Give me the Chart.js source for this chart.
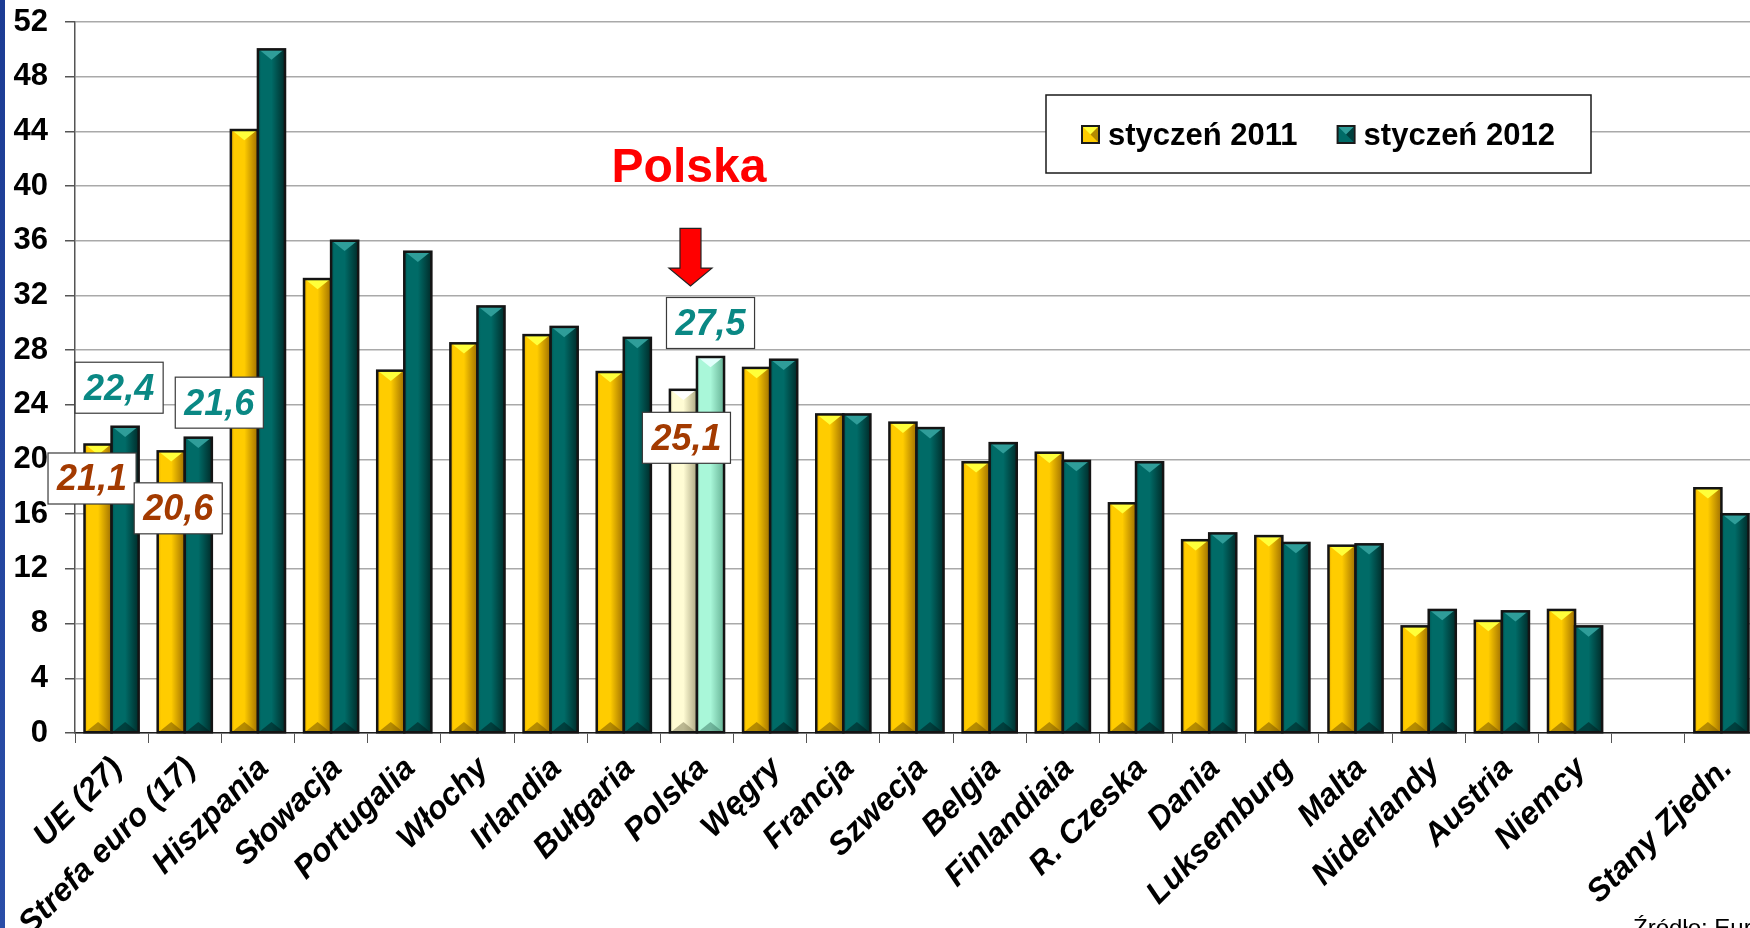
<!DOCTYPE html>
<html>
<head>
<meta charset="utf-8">
<script src="https://cdn.jsdelivr.net/npm/chart.js@4.4.0/dist/chart.umd.min.js"></script>
<style>
html,body{margin:0;padding:0;overflow:hidden;background:#fff;width:1750px;height:928px}
canvas{display:block}
</style>
</head>
<body>
<canvas id="c" width="1760" height="928" style="width:1760px;height:928px"></canvas>
<script>
// ---------- DATA ----------
const categories = ['UE (27)','Strefa euro (17)','Hiszpania','Słowacja','Portugalia','Włochy','Irlandia','Bułgaria','Polska','Węgry','Francja','Szwecja','Belgia','Finlandiaia','R. Czeska','Dania','Luksemburg','Malta','Niderlandy','Austria','Niemcy','','Stany Zjedn.'];
const jan2011 = [21.1,20.6,44.1,33.2,26.5,28.5,29.1,26.4,25.1,26.7,23.3,22.7,19.8,20.5,16.8,14.1,14.4,13.7,7.8,8.2,9.0,null,17.9];
const jan2012 = [22.4,21.6,50.0,36.0,35.2,31.2,29.7,28.9,27.5,27.3,23.3,22.3,21.2,19.9,19.8,14.6,13.9,13.8,9.0,8.9,7.8,null,16.0];
const seriesNames = ['styczeń 2011','styczeń 2012'];
const yTickValues = [0,4,8,12,16,20,24,28,32,36,40,44,48,52];
const highlightCategory = 'Polska';
const highlightTitle = 'Polska';
const sourceText = 'Źródło: Eurostat';
// which values carry a boxed label: [datasetIndex, categoryIndex]
const calloutPoints = [[1,0],[0,0],[1,1],[0,1],[1,8],[0,8]];

// ---------- STYLE ----------
const FONT = "'Liberation Sans', Arial, Helvetica, sans-serif";
const calloutOffsets = [[-6,-39],[-6,34],[21,-35],[7,57],[0,-34],[3,48]];
const pal = {
  y:  {base:'#ffcc00', edge:'#e0a800', dark:'#a07000', light:'#ffff3a', shadow:'rgba(120,85,0,0.55)', text:'#a33a00'},
  t:  {base:'#006b67', edge:'#005552', dark:'#002c2a', light:'#2f9d99', shadow:'rgba(0,30,30,0.55)', text:'#0a8884'},
  yP: {base:'#fffcd4', edge:'#e8e4b8', dark:'#aca882', light:'#ffffff', shadow:'rgba(120,115,80,0.5)'},
  tP: {base:'#a9f7d9', edge:'#90e4c4', dark:'#66b295', light:'#e2fffb', shadow:'rgba(60,120,100,0.5)'}
};
const hiIdx = categories.indexOf(highlightCategory);
function palFor(di, i){
  if (i === hiIdx) return di === 0 ? pal.yP : pal.tP;
  return di === 0 ? pal.y : pal.t;
}
const fmt = v => v.toFixed(1).replace('.', ',');

// ---------- PLUGINS ----------
const bgPlugin = {
  id:'bg',
  beforeDraw(chart){
    const ctx = chart.ctx;
    ctx.save();
    ctx.fillStyle = '#ffffff';
    ctx.fillRect(0,0,chart.width,chart.height);
    const g = ctx.createLinearGradient(0,0,0,chart.height);
    g.addColorStop(0,'#1c3c94'); g.addColorStop(1,'#2a4ea8');
    ctx.fillStyle = g;
    ctx.fillRect(0,0,5,chart.height);
    ctx.restore();
  }
};

const barStylePlugin = {
  id:'barStyle',
  afterDatasetsDraw(chart){
    const ctx = chart.ctx;
    chart.data.datasets.forEach((ds, di) => {
      const meta = chart.getDatasetMeta(di);
      meta.data.forEach((bar, i) => {
        if (ds.data[i] == null) return;
        const p = bar.getProps(['x','y','base','width'], true);
        const l = p.x - p.width/2, r = p.x + p.width/2, top = p.y, bot = p.base;
        const c = palFor(di, i);
        ctx.save();
        const g = ctx.createLinearGradient(l,0,r,0);
        g.addColorStop(0, c.edge);
        g.addColorStop(0.12, c.base);
        g.addColorStop(0.5, c.base);
        g.addColorStop(1, c.dark);
        ctx.fillStyle = g;
        ctx.fillRect(l, top, p.width, bot-top);
        const bh = Math.min(p.width*0.38, (bot-top)/2);
        ctx.fillStyle = c.light;
        ctx.beginPath(); ctx.moveTo(l+2,top+1); ctx.lineTo(r-2,top+1); ctx.lineTo(p.x, top+bh); ctx.closePath(); ctx.fill();
        ctx.fillStyle = c.shadow;
        ctx.beginPath(); ctx.moveTo(l+2,bot-1); ctx.lineTo(r-2,bot-1); ctx.lineTo(p.x, bot-bh); ctx.closePath(); ctx.fill();
        ctx.lineWidth = 2.5;
        ctx.strokeStyle = '#141414';
        ctx.strokeRect(l, top, p.width, bot-top);
        ctx.restore();
      });
    });
  }
};

const annotPlugin = {
  id:'annot',
  afterDraw(chart){
    const ctx = chart.ctx;
    const xs = chart.scales.x, ys = chart.scales.y;
    ctx.save();
    // callout labels
    ctx.font = "italic bold 36px " + FONT;
    ctx.textAlign = 'center';
    ctx.textBaseline = 'middle';
    calloutPoints.forEach(([di, i], k) => {
      const bar = chart.getDatasetMeta(di).data[i];
      const p = bar.getProps(['x','y'], true);
      const cx = p.x + calloutOffsets[k][0], cy = p.y + calloutOffsets[k][1];
      const txt = fmt(chart.data.datasets[di].data[i]);
      const w = ctx.measureText(txt).width + 18, h = 51;
      ctx.fillStyle = '#ffffff';
      ctx.fillRect(cx-w/2, cy-h/2, w, h);
      ctx.lineWidth = 1.2; ctx.strokeStyle = '#3a3a3a';
      ctx.strokeRect(cx-w/2, cy-h/2, w, h);
      ctx.fillStyle = di === 0 ? pal.y.text : pal.t.text;
      ctx.fillText(txt, cx, cy+2);
    });
    // highlight title + arrow
    const hx = xs.getPixelForValue(hiIdx);
    ctx.font = "bold 48px " + FONT;
    ctx.fillStyle = '#ff0000';
    ctx.textAlign = 'center';
    ctx.textBaseline = 'alphabetic';
    ctx.fillText(highlightTitle, hx - 8, ys.getPixelForValue(40.3));
    const ax = hx - 6.5;
    const yTop = ys.getPixelForValue(36.9), yNeck = ys.getPixelForValue(34.0), yTip = ys.getPixelForValue(32.7);
    ctx.beginPath();
    ctx.moveTo(ax-10.5, yTop); ctx.lineTo(ax+10.5, yTop); ctx.lineTo(ax+10.5, yNeck);
    ctx.lineTo(ax+21.5, yNeck); ctx.lineTo(ax, yTip); ctx.lineTo(ax-21.5, yNeck);
    ctx.lineTo(ax-10.5, yNeck); ctx.closePath();
    ctx.fillStyle = '#ff0000'; ctx.fill();
    ctx.lineWidth = 1.2; ctx.strokeStyle = '#222'; ctx.stroke();
    // legend
    const lx = 1046, ly = 95, lw = 545, lh = 78;
    ctx.fillStyle = '#ffffff';
    ctx.fillRect(lx, ly, lw, lh);
    ctx.lineWidth = 1.5; ctx.strokeStyle = '#1a1a1a';
    ctx.strokeRect(lx, ly, lw, lh);
    ctx.font = "bold 31px " + FONT;
    ctx.textAlign = 'left';
    ctx.textBaseline = 'alphabetic';
    let cur = lx + 36;
    seriesNames.forEach((name, di) => {
      const c = di === 0 ? pal.y : pal.t;
      const sx = cur, sy = ly + 31, s = 17;
      ctx.fillStyle = c.base; ctx.fillRect(sx, sy, s, s);
      ctx.fillStyle = c.light;
      ctx.beginPath(); ctx.moveTo(sx+1,sy+1); ctx.lineTo(sx+s-1,sy+1); ctx.lineTo(sx+s/2,sy+s/2); ctx.closePath(); ctx.fill();
      ctx.fillStyle = c.shadow;
      ctx.beginPath(); ctx.moveTo(sx+s-1,sy+1); ctx.lineTo(sx+s-1,sy+s-1); ctx.lineTo(sx+s/2,sy+s/2); ctx.closePath(); ctx.fill();
      ctx.lineWidth = 2; ctx.strokeStyle = '#1a1a1a'; ctx.strokeRect(sx, sy, s, s);
      ctx.fillStyle = '#000';
      ctx.fillText(name, sx + 26, ly + 50);
      cur = sx + 26 + ctx.measureText(name).width + 40;
    });
    // source
    ctx.font = "24px " + FONT;
    ctx.fillStyle = '#000';
    ctx.fillText(sourceText, 1633, 936);
    ctx.restore();
  }
};

// ---------- CHART ----------
const chart = new Chart(document.getElementById('c'), {
  type:'bar',
  data:{
    labels: categories,
    datasets:[
      {label: seriesNames[0], data: jan2011, backgroundColor: categories.map((_,i)=>palFor(0,i).base), borderColor:'#141414', borderWidth:2},
      {label: seriesNames[1], data: jan2012, backgroundColor: categories.map((_,i)=>palFor(1,i).base), borderColor:'#141414', borderWidth:2}
    ]
  },
  options:{
    responsive:false,
    animation:false,
    events:[],
    layout:{padding:{top:22,left:0,right:2,bottom:0}},
    datasets:{bar:{categoryPercentage:0.74, barPercentage:1.0}},
    plugins:{legend:{display:false}, tooltip:{enabled:false}, title:{display:false}},
    scales:{
      x:{
        grid:{display:true, drawOnChartArea:false, drawTicks:true, tickLength:10, tickColor:'#555', offset:true},
        border:{display:true, color:'#222', width:1.5},
        ticks:{autoSkip:false, maxRotation:45, minRotation:45, padding:7, labelOffset:6, color:'#000',
               font:{family:FONT, size:32, weight:'bold', style:'italic'}},
        afterFit(s){ s.height = 195; s.paddingLeft = 0; s.paddingRight = 0; }
      },
      y:{
        min:0, max:52,
        afterBuildTicks(s){ s.ticks = yTickValues.map(v=>({value:v})); },
        grid:{color:'#a9a9a9', lineWidth:1.5, tickLength:10, tickColor:'#555'},
        border:{display:true, color:'#555', width:1.5},
        ticks:{padding:17, color:'#000', font:{family:FONT, size:31, weight:'bold'}},
        afterFit(s){ s.width = 75; s.paddingTop = 0; s.paddingBottom = 0; }
      }
    }
  },
  plugins:[bgPlugin, barStylePlugin, annotPlugin]
});
</script>
</body>
</html>
